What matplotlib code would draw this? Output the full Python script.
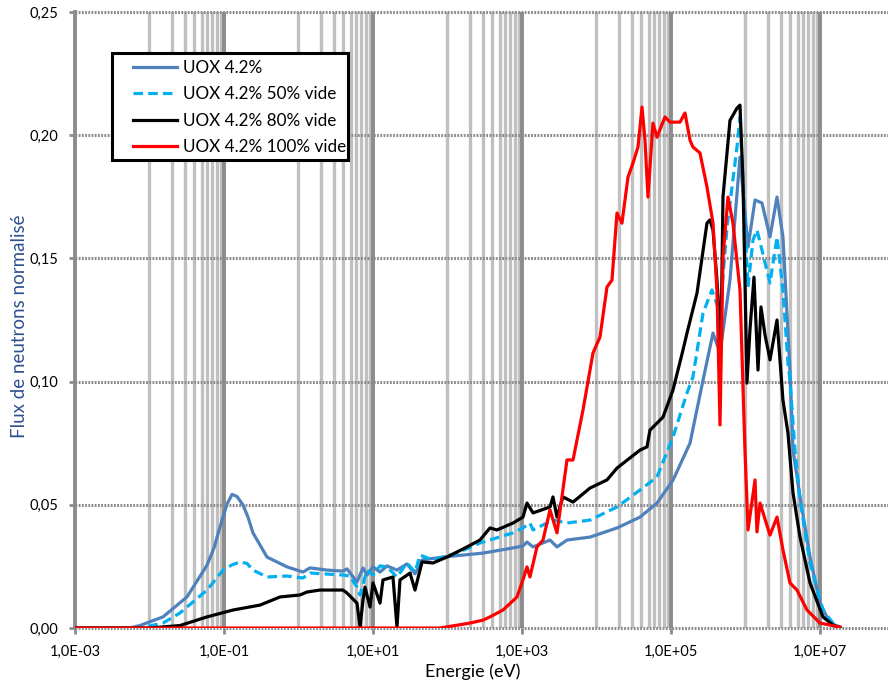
import numpy as np
import matplotlib
matplotlib.use("Agg")
import matplotlib.pyplot as plt
from matplotlib.patches import Rectangle

plt.rcParams['font.family'] = ['Lato', 'DejaVu Sans']

# log10(E / eV) and normalised flux
uox_loge = [-3.0, -2.262, -2.128, -1.819, -1.497, -1.228, -1.134, -1.054, -0.960, -0.893,
            -0.826, -0.745, -0.678, -0.611,
            -0.423, -0.154, 0.060, 0.154, 0.383, 0.597, 0.651, 0.785, 0.866, 0.919,
            1.0, 1.094, 1.188, 1.322, 1.456, 1.564, 1.658, 1.940, 2.477, 2.879,
            3.013, 3.067, 3.148, 3.376, 3.470, 3.604, 3.913, 4.275, 4.584, 4.812,
            5.027, 5.255, 5.430, 5.564, 5.658, 5.792, 5.926, 6.034, 6.128, 6.221,
            6.329, 6.423, 6.503, 6.597, 6.638, 6.732, 6.866, 7.0, 7.134, 7.268]
uox_flux = [0.0, 0.0, 0.001, 0.0045, 0.0126, 0.0255, 0.0325, 0.041, 0.0502, 0.0542,
            0.0534, 0.0499, 0.045, 0.0386,
            0.0288, 0.0248, 0.0227, 0.0244, 0.0235, 0.0231, 0.024, 0.0187, 0.0244, 0.0215,
            0.0248, 0.0227, 0.0252, 0.0235, 0.026, 0.022, 0.0276, 0.0288, 0.0304, 0.0325,
            0.0333, 0.0349, 0.0329, 0.0357, 0.0329, 0.0357, 0.0369, 0.0406, 0.045, 0.0507,
            0.060, 0.075, 0.1006, 0.1197, 0.1116, 0.1412, 0.1911, 0.1546, 0.1737, 0.1725,
            0.1587, 0.1749, 0.1587, 0.1047, 0.0722, 0.0532, 0.0288, 0.0101, 0.002, 0.0004]

v50_loge = [-3.0, -2.128, -1.819, -1.591, -1.228, -1.013, -0.893, -0.785, -0.691, -0.611,
            -0.423, -0.154,
            0.060, 0.154, 0.597, 0.691, 0.785, 0.826, 0.919, 1.0, 1.094, 1.188,
            1.322, 1.456, 1.564, 1.631, 1.805, 2.128, 2.436, 2.879, 3.013, 3.107,
            3.148, 3.416, 3.604, 3.913, 4.275, 4.584, 4.812, 5.027, 5.215, 5.295,
            5.430, 5.550, 5.658, 5.752, 5.886, 5.926, 5.966, 6.034, 6.101, 6.154,
            6.221, 6.329, 6.423, 6.503, 6.570, 6.597, 6.664, 6.732, 6.866, 7.040,
            7.174, 7.268]
v50_flux = [0.0, 0.0, 0.002, 0.0061, 0.0154, 0.0235, 0.0256, 0.0268, 0.0262, 0.0235,
            0.0207, 0.0211,
            0.0203, 0.0223, 0.0215, 0.0211, 0.0166, 0.0134, 0.0235, 0.0215, 0.0252, 0.0248,
            0.0207, 0.0264, 0.0227, 0.0296, 0.0276, 0.0304, 0.0345, 0.0386, 0.0406, 0.0426,
            0.0398, 0.0438, 0.0426, 0.0438, 0.0491, 0.056, 0.0613, 0.0775, 0.0954, 0.1019,
            0.1278, 0.1372, 0.1278, 0.1627, 0.1952, 0.2074, 0.1818, 0.1384, 0.1575, 0.1615,
            0.1534, 0.14, 0.1587, 0.1372, 0.1075, 0.1006, 0.0722, 0.052, 0.0264, 0.0073,
            0.002, 0.0]

v80_loge = [-3.0, -1.993, -1.591, -1.228, -0.879, -0.517, -0.248, 0.020, 0.114, 0.289,
            0.597, 0.651, 0.785, 0.826, 0.866, 0.893, 0.960, 1.0, 1.094, 1.134,
            1.268, 1.322, 1.362, 1.497, 1.564, 1.658, 1.805, 1.993, 2.262, 2.436,
            2.570, 2.664, 2.879, 3.013, 3.067, 3.148, 3.376, 3.416, 3.470, 3.550,
            3.685, 3.913, 4.141, 4.275, 4.584, 4.678, 4.718, 4.893, 5.027, 5.161,
            5.215, 5.349, 5.483, 5.523, 5.564, 5.617, 5.671, 5.698, 5.792, 5.886,
            5.926, 5.966, 5.993, 6.020, 6.060, 6.114, 6.168, 6.208, 6.262, 6.329,
            6.423, 6.503, 6.570, 6.638, 6.732, 6.866, 7.040, 7.174, 7.268]
v80_flux = [0.0, 0.0, 0.001, 0.0045, 0.0073, 0.0093, 0.0126, 0.0134, 0.0146, 0.0154,
            0.0154, 0.0142, 0.0101, 0.0004, 0.0114, 0.0166, 0.0085, 0.0183, 0.0101, 0.0195,
            0.0207, 0.0004, 0.0195, 0.0223, 0.0154, 0.0268, 0.0264, 0.0288, 0.0329, 0.0357,
            0.0406, 0.0398, 0.0426, 0.045, 0.0507, 0.0467, 0.0491, 0.0532, 0.045, 0.0532,
            0.0511, 0.0568, 0.0601, 0.0649, 0.0722, 0.0735, 0.0803, 0.0856, 0.0966, 0.1128,
            0.1197, 0.1359, 0.1643, 0.1656, 0.1615, 0.1412, 0.115, 0.175, 0.206, 0.211,
            0.2122, 0.1818, 0.1412, 0.0994, 0.121, 0.1424, 0.1047, 0.1303, 0.119, 0.1088,
            0.125, 0.0925, 0.0791, 0.0548, 0.0369, 0.0183, 0.0045, 0.0012, 0.0]

v100_loge = [-3.0, 1.899, 2.302, 2.477, 2.570, 2.745, 2.933, 3.013, 3.067, 3.107,
             3.201, 3.282, 3.376, 3.470, 3.604, 3.685, 3.819, 3.953, 4.047, 4.141,
             4.208, 4.275, 4.342, 4.423, 4.490, 4.557, 4.611, 4.651, 4.691, 4.758,
             4.812, 4.919, 4.987, 5.121, 5.188, 5.255, 5.295, 5.389, 5.483, 5.564,
             5.617, 5.658, 5.698, 5.765, 5.832, 5.926, 5.993, 6.034, 6.128, 6.154,
             6.195, 6.329, 6.423, 6.503, 6.597, 6.691, 6.826, 7.0, 7.268]
v100_flux = [0.0, 0.0, 0.002, 0.0032, 0.0045, 0.0073, 0.0126, 0.0195, 0.0248, 0.0207,
             0.0329, 0.0357, 0.0479, 0.0386, 0.0682, 0.0682, 0.0885, 0.1116, 0.1181, 0.1384,
             0.1412, 0.1684, 0.1643, 0.183, 0.1887, 0.1952, 0.2114, 0.198, 0.1749, 0.2049,
             0.1992, 0.2074, 0.2053, 0.2053, 0.209, 0.198, 0.1952, 0.1928, 0.179, 0.1643,
             0.1372, 0.0824, 0.1506, 0.1749, 0.1643, 0.1372, 0.0722, 0.0398, 0.0601, 0.039,
             0.0507, 0.0377, 0.045, 0.0317, 0.0183, 0.0154, 0.0073, 0.002, 0.0004]

labels = ['UOX 4.2%', 'UOX 4.2% 50% vide', 'UOX 4.2% 80% vide', 'UOX 4.2% 100% vide']
xtick_exp = [-3, -1, 1, 3, 5, 7]
yticks = [0.0, 0.05, 0.10, 0.15, 0.20, 0.25]

fig = plt.figure(figsize=(8.88, 6.82), dpi=100)
ax = fig.add_axes([75 / 888, 54 / 682, 813 / 888, 616 / 682])
ax.set_xscale('log')
ax.set_xlim(1e-3, 10 ** 7.913)
ax.set_ylim(0, 0.25)

# excel-style grid: minor lines only in the even decades, dark lines on the odd ones
for k in [-2, 0, 2, 4, 6]:
    for m in range(1, 10):
        ax.axvline(m * 10.0 ** k, color='#c0c0c0', lw=2.4, zorder=0)
for k in xtick_exp[1:]:
    ax.axvline(10.0 ** k, color='#8c8c8c', lw=2.8, zorder=0.5)
for yv in yticks:
    ax.axhline(yv, color='#8c8c8c', lw=2.2, ls=(0, (0.6, 0.45)), zorder=1, clip_on=False)

ax.plot(10 ** np.array(uox_loge), uox_flux, color='#4f81bd', lw=2.3, label=labels[0], zorder=3)
ax.plot(10 ** np.array(v50_loge), v50_flux, color='#00b0f0', lw=2.3, ls=(0, (3, 1.6)),
        label=labels[1], zorder=4)
ax.plot(10 ** np.array(v80_loge), v80_flux, color='black', lw=2.3, label=labels[2], zorder=5)
ax.plot(10 ** np.array(v100_loge), v100_flux, color='#ff0000', lw=2.3, label=labels[3], zorder=6)

for s in ['top', 'right', 'bottom']:
    ax.spines[s].set_visible(False)
ax.spines['left'].set_color('#8c8c8c')
ax.spines['left'].set_linewidth(2.8)

ax.set_xticks([10.0 ** k for k in xtick_exp])
ax.set_xticklabels(['1,0E%+03d' % k if k < 0 else '1,0E+%02d' % k for k in xtick_exp])
ax.xaxis.set_minor_locator(matplotlib.ticker.NullLocator())
ax.set_yticks(yticks)
ax.set_yticklabels([('%.2f' % v).replace('.', ',') for v in yticks])
ax.tick_params(axis='both', colors='#8c8c8c', labelcolor='black', labelsize=10.5,
               length=4, width=2)
ax.tick_params(axis='x', pad=8)
ax.tick_params(axis='y', pad=8)

ax.set_xlabel('Energie (eV)', fontsize=13)
ax.xaxis.set_label_coords((473 - 75) / 813, -0.058)
ax.set_ylabel('Flux de neutrons normalisé', fontsize=13.5, color='#2e5190')
ax.yaxis.set_label_coords(-0.058, 0.49)

# legend box drawn by hand, legend itself without frame
box = Rectangle(((112 - 75) / 813, (628 - 160) / 616), 236 / 813, 107 / 616,
                transform=ax.transAxes, facecolor='white', edgecolor='black',
                lw=2.2, zorder=9)
ax.add_patch(box)
leg = ax.legend(loc='upper left', bbox_to_anchor=((133 - 75) / 813, (628 - 60) / 616),
                fontsize=12.3, handlelength=2.6, handletextpad=0.3, labelspacing=0.6,
                borderpad=0, borderaxespad=0, frameon=False)
leg.set_zorder(10)

fig.savefig('out.png', dpi=100)
